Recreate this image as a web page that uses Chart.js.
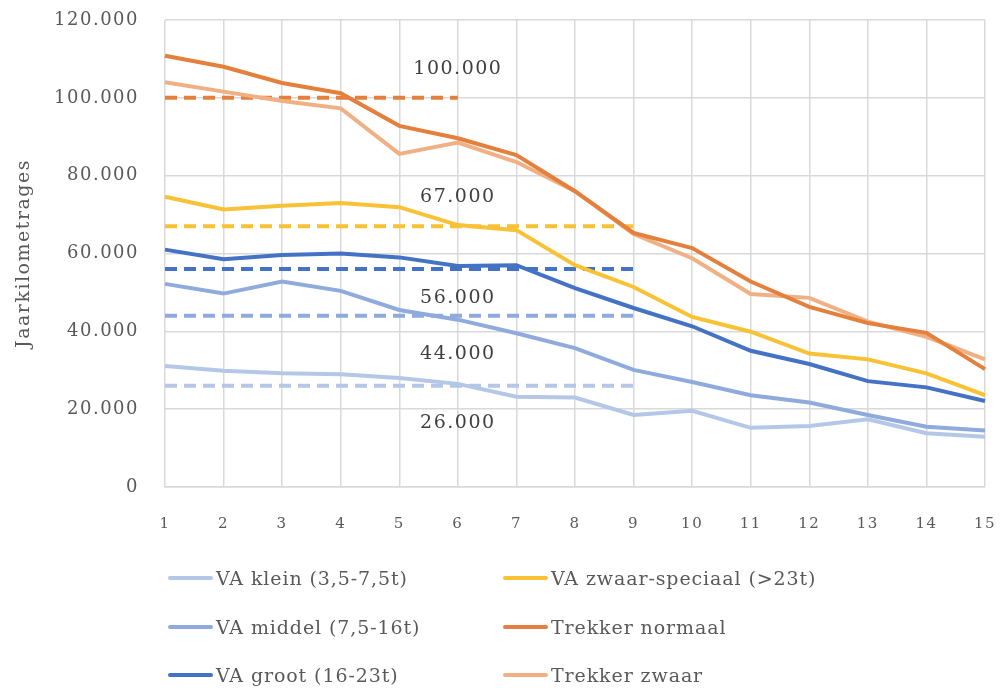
<!DOCTYPE html>
<html>
<head>
<meta charset="utf-8">
<script src="https://cdn.jsdelivr.net/npm/chart.js@4/dist/chart.umd.min.js"></script>
<style>
    html, body { margin: 0; padding: 0; background: #fff; }
    #wrap { position: relative; width: 1000px; height: 688px; }
    #legend {
        position: absolute; left: 168px; top: 554px;
        display: grid; grid-template-columns: 335px 330px; grid-auto-rows: 48.5px;
        font-family: "DejaVu Serif", serif; font-size: 19px; color: #595959;
        letter-spacing: 0.9px;
    }
    .item { display: flex; align-items: center; white-space: nowrap; }
    .swatch { width: 45px; height: 4px; border-radius: 2px; margin-right: 3px; }
</style>
</head>
<body>
<div id="wrap">
    <canvas id="chart" width="1000" height="688"></canvas>
    <div id="legend"></div>
</div>
<script>
    "use strict";

    // Data
    var years = ["1", "2", "3", "4", "5", "6", "7", "8", "9", "10", "11", "12", "13", "14", "15"];
    var yTicks = [0, 20000, 40000, 60000, 80000, 100000, 120000];

    var vaKlein = [31100, 29900, 29200, 29000, 28000, 26500, 23200, 23000, 18500, 19600, 15200, 15700, 17400, 13800, 12900];
    var vaMiddel = [52200, 49700, 52800, 50400, 45500, 43000, 39500, 35700, 30100, 27000, 23600, 21700, 18500, 15500, 14500];
    var vaGroot = [61000, 58500, 59600, 60000, 59000, 56800, 57000, 51100, 46000, 41300, 35000, 31600, 27200, 25600, 22100];
    var vaZwaar = [74600, 71300, 72300, 73000, 71900, 67300, 66000, 57000, 51400, 43700, 39900, 34300, 32800, 29200, 23600];
    var trekkerNormaal = [110800, 108000, 103800, 101200, 92800, 89600, 85300, 76000, 65300, 61400, 52800, 46300, 42100, 39600, 30300];
    var trekkerZwaar = [104000, 101600, 99200, 97300, 85600, 88500, 83500, 76000, 65000, 58800, 49600, 48600, 42500, 38600, 32800];

    // reference levels and up to which year they run
    var refValues = [100000, 67000, 56000, 44000, 26000];
    var refUntil = ["6", "9", "9", "9", "9"];

    // Styles
    var cKlein = "#b4c7e7", cMiddel = "#8faadc", cGroot = "#4472c4";
    var cZwaar = "#f9c134", cNormaal = "#e4803c", cTZwaar = "#f0b084";
    var refColors = [cNormaal, cZwaar, cGroot, cMiddel, cKlein];
    var refLabelOffset = [-29, -29, 29, 38, 37];

    var font = "'DejaVu Serif', serif";

    function fmt(v) {
        return String(v).replace(/\B(?=(\d{3})+(?!\d))/g, ".");
    }

    function mainSet(label, data, color) {
        return {
            label: label, data: data, borderColor: color, backgroundColor: color,
            borderWidth: 4, pointRadius: 0, tension: 0, fill: false
        };
    }

    function refSet(value, until, color) {
        var last = years.indexOf(until);
        var data = years.map(function (y, i) { return i <= last ? value : null; });
        return {
            label: "ref " + value, data: data, borderColor: color, backgroundColor: color,
            borderWidth: 4, borderDash: [12, 7], pointRadius: 0, fill: false, isRef: true
        };
    }

    // legend order (two columns, row by row)
    var datasets = [
        mainSet("VA klein (3,5-7,5t)", vaKlein, cKlein),
        mainSet("VA zwaar-speciaal (>23t)", vaZwaar, cZwaar),
        mainSet("VA middel (7,5-16t)", vaMiddel, cMiddel),
        mainSet("Trekker normaal", trekkerNormaal, cNormaal),
        mainSet("VA groot (16-23t)", vaGroot, cGroot),
        mainSet("Trekker zwaar", trekkerZwaar, cTZwaar)
    ];
    refValues.forEach(function (v, i) {
        datasets.push(refSet(v, refUntil[i], refColors[i]));
    });

    // Labels on the dashed lines
    var refLabels = {
        id: "refLabels",
        afterDatasetsDraw: function (chart) {
            var ctx = chart.ctx;
            var xs = chart.scales.x, ys = chart.scales.y;
            ctx.save();
            ctx.font = "19px " + font;
            ctx.fillStyle = "#404040";
            ctx.textAlign = "center";
            ctx.textBaseline = "middle";
            refValues.forEach(function (v, i) {
                var x = xs.getPixelForValue(years.indexOf("6"));
                var y = ys.getPixelForValue(v) + refLabelOffset[i];
                ctx.fillText(fmt(v), x, y);
            });
            ctx.restore();
        }
    };

    var spacing = {
        id: "spacing",
        beforeDraw: function (chart) {
            chart.ctx.letterSpacing = "1.5px";
        }
    };

    var chart = new Chart(document.getElementById("chart").getContext("2d"), {
        type: "line",
        data: { labels: years, datasets: datasets },
        plugins: [spacing, refLabels],
        options: {
            responsive: false,
            animation: false,
            layout: { padding: { top: 20, right: 15, bottom: 141, left: 0 } },
            plugins: {
                legend: { display: false },
                tooltip: { enabled: false }
            },
            scales: {
                x: {
                    offset: false,
                    grid: { color: "#d9d9d9", lineWidth: 1.5, drawTicks: false },
                    border: { color: "#d9d9d9", width: 1.5 },
                    ticks: { color: "#595959", font: { family: font, size: 15 }, padding: 28, maxRotation: 0 },
                    afterFit: function (s) {
                        s.height = 60;
                        s.paddingLeft = 0;
                        s.paddingRight = 0;
                    }
                },
                y: {
                    min: yTicks[0], max: yTicks[yTicks.length - 1],
                    afterBuildTicks: function (s) {
                        s.ticks = yTicks.map(function (v) { return { value: v }; });
                    },
                    grid: { color: "#d9d9d9", lineWidth: 1.5, drawTicks: false },
                    border: { display: false },
                    ticks: {
                        color: "#595959", font: { family: font, size: 18 }, padding: 26,
                        callback: function (v) { return fmt(v); }
                    },
                    title: {
                        display: true, text: "Jaarkilometrages", color: "#595959",
                        font: { family: font, size: 19 }, padding: { top: 13, bottom: 0 }
                    },
                    afterFit: function (s) {
                        s.width = 165;
                        s.paddingTop = 0;
                        s.paddingBottom = 0;
                    }
                }
            }
        }
    });

    // HTML legend in two columns
    var legend = document.getElementById("legend");
    chart.data.datasets.forEach(function (ds) {
        if (ds.isRef) return;
        var item = document.createElement("div");
        item.className = "item";
        item.innerHTML = '<span class="swatch" style="background:' + ds.borderColor + '"></span>' + ds.label.replace(/>/g, "&gt;");
        legend.appendChild(item);
    });
</script>
</body>
</html>
